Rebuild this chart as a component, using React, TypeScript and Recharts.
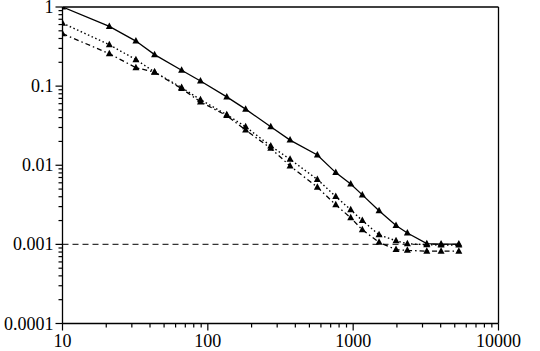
import { LineChart, Line, XAxis, YAxis, ReferenceLine } from 'recharts';

// x positions shared by the three curves
const xValues = [10, 21, 32, 43, 66, 89, 135, 182, 271, 368, 567, 759, 962, 1156, 1507, 1972, 2360, 3211, 4027, 5334];
const solidValues = [1.0, 0.568, 0.371, 0.25, 0.159, 0.116, 0.0731, 0.0512, 0.0306, 0.0208, 0.0135, 0.00807, 0.00581, 0.00422, 0.00266, 0.00173, 0.00139, 0.00102, 0.00101, 0.00101];
const dottedValues = [0.625, 0.334, 0.216, 0.151, 0.096, 0.0674, 0.0436, 0.0306, 0.0175, 0.0119, 0.00662, 0.00402, 0.00274, 0.002, 0.00132, 0.00111, 0.00102, 0.00099, 0.00098, 0.00098];
const dashDotValues = [0.46, 0.257, 0.171, 0.15, 0.093, 0.0632, 0.0424, 0.0278, 0.0164, 0.0098, 0.00528, 0.00316, 0.00217, 0.00153, 0.00106, 0.00086, 0.00084, 0.00082, 0.00082, 0.00082];

// horizontal reference level
const limitX = [10, 5334];
const limitValue = 0.001;

const xMajorTicks = [10, 100, 1000, 10000];
const xTickLabels = ['10', '100', '1000', '10000'];
const yMajorTicks = [0.0001, 0.001, 0.01, 0.1, 1];
const yTickLabels = ['0.0001', '0.001', '0.01', '0.1', '1'];
const minorSteps = [2, 3, 4, 5, 6, 7, 8, 9];

const withMinor = (majors: number[]) => {
  const out: number[] = [];
  majors.forEach((m, i) => {
    out.push(m);
    if (i < majors.length - 1) minorSteps.forEach(s => out.push(parseFloat((m * s).toPrecision(6))));
  });
  return out;
};

const xTicks = withMinor(xMajorTicks);
const yTicks = withMinor(yMajorTicks);

const data = xValues.map((x, i) => ({
  x,
  solid: solidValues[i],
  dotted: dottedValues[i],
  dashDot: dashDotValues[i],
}));
const limitData = limitX.map(x => ({ x, limit: limitValue }));

const FONT = '"Liberation Serif", "Times New Roman", serif';

const Triangle = (props: any) => {
  const { cx, cy } = props;
  if (cx == null || cy == null) return null;
  return <polygon points={`${cx},${cy - 4} ${cx - 3.5},${cy + 2.5} ${cx + 3.5},${cy + 2.5}`} fill="#000" />;
};

const XTick = (props: any) => {
  const { x, y, payload } = props;
  const idx = xMajorTicks.indexOf(payload.value);
  const major = idx >= 0;
  return (
    <g>
      <line x1={x} x2={x} y1={y} y2={y + (major ? 7 : 4)} stroke="#000" strokeWidth={1.2} />
      {major && (
        <text x={x} y={y + 23} textAnchor="middle" fontFamily={FONT} fontSize={18} fill="#000">
          {xTickLabels[idx]}
        </text>
      )}
    </g>
  );
};

const YTick = (props: any) => {
  const { x, y, payload } = props;
  const idx = yMajorTicks.indexOf(payload.value);
  const major = idx >= 0;
  return (
    <g>
      <line x1={x} x2={x - (major ? 7 : 4)} y1={y} y2={y} stroke="#000" strokeWidth={1.2} />
      {major && (
        <text x={x - 9} y={y + 6} textAnchor="end" fontFamily={FONT} fontSize={18} fill="#000">
          {yTickLabels[idx]}
        </text>
      )}
    </g>
  );
};

export default function App() {
  return (
    <div style={{ position: 'absolute', left: 0, top: 0, width: 540, height: 351, background: '#fff' }}>
      <LineChart width={540} height={351} data={data} margin={{ top: 7, right: 41.5, left: 0, bottom: 0 }}>
        <XAxis
          dataKey="x"
          type="number"
          scale="log"
          domain={[10, 10000]}
          ticks={xTicks}
          interval={0}
          allowDataOverflow
          height={27.5}
          tickSize={0}
          tickMargin={0}
          tickLine={false}
          axisLine={{ stroke: '#000', strokeWidth: 1.3 }}
          tick={<XTick />}
        />
        <YAxis
          type="number"
          scale="log"
          domain={[0.0001, 1]}
          ticks={yTicks}
          interval={0}
          allowDataOverflow
          width={62.5}
          tickSize={0}
          tickMargin={0}
          tickLine={false}
          axisLine={{ stroke: '#000', strokeWidth: 1.3 }}
          tick={<YTick />}
        />
        <ReferenceLine y={1} stroke="#000" strokeWidth={1.3} />
        <ReferenceLine x={10000} stroke="#000" strokeWidth={1.3} />
        <Line
          data={limitData}
          dataKey="limit"
          stroke="#333"
          strokeWidth={1.3}
          strokeDasharray="6 4"
          dot={false}
          isAnimationActive={false}
        />
        <Line dataKey="solid" stroke="#000" strokeWidth={1.3} dot={<Triangle />} isAnimationActive={false} />
        <Line
          dataKey="dotted"
          stroke="#000"
          strokeWidth={1.4}
          strokeDasharray="1.5 2.5"
          dot={<Triangle />}
          isAnimationActive={false}
        />
        <Line
          dataKey="dashDot"
          stroke="#000"
          strokeWidth={1.3}
          strokeDasharray="5 3 1.5 3"
          dot={<Triangle />}
          isAnimationActive={false}
        />
      </LineChart>
    </div>
  );
}
